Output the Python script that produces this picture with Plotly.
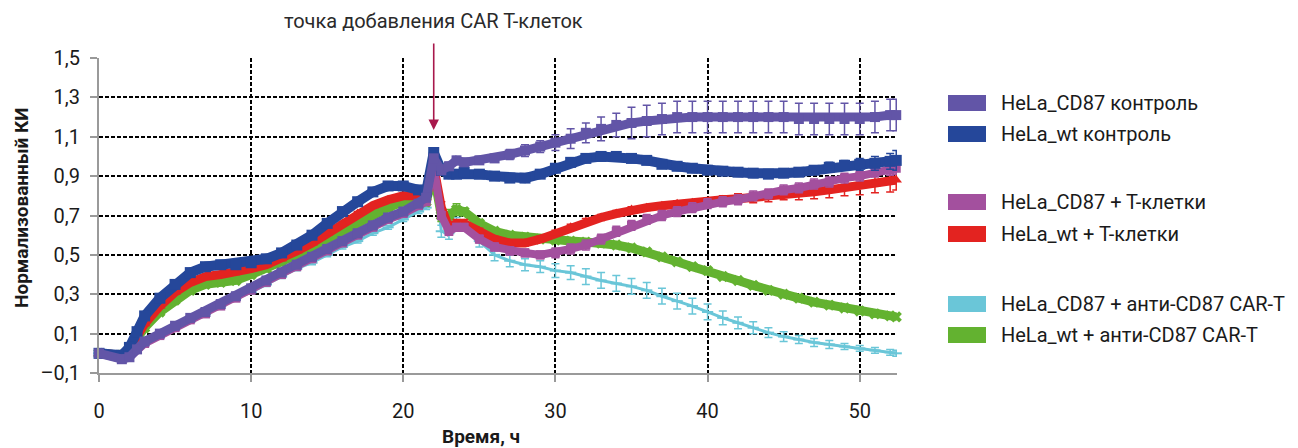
import plotly.graph_objects as go

# ---------------- data ----------------
time_h = [0, 1.5, 2, 2.5, 3,
          4, 5, 6, 7, 8, 9, 10, 11, 12, 13, 14, 15, 16, 17, 18, 19, 20, 21,
          21.5, 22, 22.5, 23, 23.5, 24,
          25, 26, 27, 28, 29, 30, 31, 32, 33, 34, 35, 36, 37, 38, 39, 40,
          41, 42, 43, 44, 45, 46, 47, 48, 49, 50, 51, 52,
          52.4]

series_names = ["HeLa_CD87 контроль", "HeLa_wt контроль",
                "HeLa_CD87 + T-клетки", "HeLa_wt + T-клетки",
                "HeLa_CD87 + анти-CD87 CAR-T", "HeLa_wt + анти-CD87 CAR-T"]

cd87_ctrl = [0.00, -0.03, -0.02, 0.02, 0.06,
             0.10, 0.14, 0.18, 0.21, 0.25, 0.29, 0.33, 0.37, 0.41, 0.45, 0.49, 0.53, 0.57, 0.61, 0.65, 0.69, 0.72, 0.76,
             0.79, 0.99, 0.93, 0.95, 0.98, 0.97,
             0.98, 0.99, 1.01, 1.03, 1.05, 1.07, 1.09, 1.12, 1.14, 1.16, 1.17, 1.18, 1.19, 1.20, 1.20, 1.20,
             1.20, 1.20, 1.20, 1.20, 1.20, 1.19, 1.19, 1.19, 1.19, 1.19, 1.20, 1.21,
             1.21]
cd87_ctrl_err = [0.01, 0.01, 0.01, 0.01, 0.01,
                 0.01, 0.01, 0.01, 0.01, 0.01, 0.01, 0.01, 0.01, 0.01, 0.01, 0.01, 0.01, 0.01, 0.01, 0.01, 0.01, 0.01, 0.01,
                 0.01, 0.02, 0.02, 0.02, 0.02, 0.02,
                 0.02, 0.02, 0.025, 0.03, 0.03, 0.04, 0.05, 0.05, 0.06, 0.06, 0.08, 0.08, 0.08, 0.08, 0.08, 0.08,
                 0.08, 0.08, 0.08, 0.08, 0.08, 0.08, 0.08, 0.08, 0.08, 0.08, 0.08, 0.08,
                 0.08]

wt_ctrl = [0.00, -0.01, 0.03, 0.11, 0.19,
           0.28, 0.35, 0.41, 0.44, 0.45, 0.45, 0.46, 0.48, 0.51, 0.55, 0.60, 0.66, 0.72, 0.77, 0.82, 0.85, 0.85, 0.83,
           0.82, 1.02, 0.93, 0.91, 0.91, 0.92,
           0.91, 0.90, 0.89, 0.89, 0.91, 0.94, 0.97, 0.99, 1.00, 1.00, 0.99, 0.98, 0.96, 0.95, 0.94, 0.93,
           0.925, 0.92, 0.915, 0.91, 0.915, 0.92, 0.93, 0.945, 0.955, 0.96, 0.965, 0.975,
           0.98]
wt_ctrl_err = [0.01, 0.01, 0.01, 0.01, 0.01,
               0.01, 0.01, 0.01, 0.01, 0.01, 0.01, 0.01, 0.01, 0.01, 0.01, 0.01, 0.01, 0.01, 0.01, 0.01, 0.01, 0.01, 0.01,
               0.01, 0.02, 0.01, 0.01, 0.01, 0.01,
               0.01, 0.01, 0.01, 0.01, 0.01, 0.01, 0.01, 0.01, 0.01, 0.01, 0.01, 0.01, 0.01, 0.01, 0.01, 0.01,
               0.01, 0.01, 0.01, 0.015, 0.015, 0.02, 0.02, 0.025, 0.025, 0.03, 0.035, 0.04,
               0.05]

cd87_t = [0.00, -0.03, -0.02, 0.02, 0.05,
          0.09, 0.13, 0.17, 0.20, 0.24, 0.28, 0.32, 0.36, 0.40, 0.44, 0.48, 0.52, 0.56, 0.60, 0.64, 0.68, 0.71, 0.75,
          0.77, 0.95, 0.70, 0.62, 0.64, 0.64,
          0.58, 0.54, 0.52, 0.51, 0.50, 0.51, 0.53, 0.55, 0.58, 0.62, 0.65, 0.68, 0.70, 0.72, 0.74, 0.76,
          0.77, 0.78, 0.80, 0.81, 0.83, 0.84, 0.86, 0.87, 0.89, 0.90, 0.92, 0.93,
          0.94]
cd87_t_err = [0.01, 0.01, 0.01, 0.01, 0.01,
              0.01, 0.01, 0.01, 0.01, 0.01, 0.01, 0.01, 0.01, 0.01, 0.01, 0.01, 0.01, 0.01, 0.01, 0.01, 0.01, 0.01, 0.01,
              0.01, 0.02, 0.02, 0.02, 0.02, 0.02,
              0.02, 0.02, 0.02, 0.02, 0.02, 0.025, 0.025, 0.025, 0.025, 0.025, 0.025, 0.025, 0.025, 0.025, 0.025, 0.025,
              0.025, 0.025, 0.025, 0.025, 0.025, 0.025, 0.025, 0.025, 0.025, 0.025, 0.025, 0.025,
              0.03]

wt_t = [0.00, -0.01, 0.02, 0.08, 0.15,
        0.24, 0.31, 0.36, 0.39, 0.40, 0.41, 0.43, 0.45, 0.48, 0.52, 0.56, 0.61, 0.66, 0.71, 0.75, 0.78, 0.80, 0.80,
        0.79, 0.95, 0.74, 0.64, 0.66, 0.66,
        0.62, 0.58, 0.56, 0.56, 0.58, 0.61, 0.64, 0.67, 0.69, 0.71, 0.73, 0.74, 0.75, 0.76, 0.765, 0.77,
        0.78, 0.785, 0.79, 0.80, 0.81, 0.815, 0.82, 0.83, 0.84, 0.85, 0.86, 0.87,
        0.88]
wt_t_err = [0.01, 0.01, 0.01, 0.01, 0.01,
            0.01, 0.01, 0.01, 0.01, 0.01, 0.01, 0.01, 0.01, 0.01, 0.01, 0.01, 0.01, 0.01, 0.01, 0.01, 0.01, 0.01, 0.01,
            0.01, 0.03, 0.03, 0.02, 0.02, 0.02,
            0.015, 0.015, 0.015, 0.015, 0.015, 0.015, 0.015, 0.015, 0.015, 0.015, 0.015, 0.015, 0.015, 0.015, 0.015, 0.02,
            0.02, 0.025, 0.025, 0.03, 0.03, 0.035, 0.035, 0.04, 0.04, 0.045, 0.045, 0.05,
            0.05]

cd87_car = [0.00, -0.02, -0.01, 0.03, 0.06,
            0.10, 0.14, 0.17, 0.20, 0.24, 0.28, 0.31, 0.35, 0.39, 0.43, 0.46, 0.50, 0.54, 0.57, 0.61, 0.64, 0.68, 0.72,
            0.74, 0.97, 0.62, 0.61, 0.67, 0.65,
            0.57, 0.50, 0.47, 0.45, 0.44, 0.42, 0.41, 0.39, 0.37, 0.355, 0.34, 0.32, 0.29, 0.265, 0.24, 0.21,
            0.18, 0.155, 0.13, 0.105, 0.085, 0.07, 0.055, 0.045, 0.035, 0.025, 0.015, 0.005,
            0.00]
cd87_car_err = [0.01, 0.01, 0.01, 0.01, 0.01,
                0.01, 0.01, 0.01, 0.01, 0.01, 0.01, 0.01, 0.01, 0.01, 0.01, 0.01, 0.01, 0.01, 0.01, 0.01, 0.01, 0.01, 0.01,
                0.01, 0.02, 0.03, 0.03, 0.02, 0.02,
                0.03, 0.03, 0.03, 0.03, 0.03, 0.035, 0.035, 0.04, 0.04, 0.04, 0.04, 0.04, 0.04, 0.04, 0.04, 0.04,
                0.035, 0.03, 0.03, 0.025, 0.025, 0.02, 0.02, 0.02, 0.015, 0.015, 0.015, 0.015,
                0.015]

wt_car = [0.00, -0.01, 0.02, 0.07, 0.13,
          0.21, 0.27, 0.32, 0.35, 0.36, 0.37, 0.40, 0.43, 0.46, 0.50, 0.54, 0.58, 0.62, 0.67, 0.71, 0.74, 0.77, 0.78,
          0.77, 0.91, 0.70, 0.70, 0.73, 0.72,
          0.66, 0.62, 0.60, 0.59, 0.58, 0.575, 0.57, 0.565, 0.56, 0.55, 0.535, 0.515, 0.49, 0.465, 0.44, 0.42,
          0.39, 0.37, 0.345, 0.32, 0.30, 0.28, 0.26, 0.245, 0.23, 0.215, 0.20, 0.19,
          0.185]
wt_car_err = [0.015, 0.015, 0.015, 0.015, 0.015,
              0.015, 0.015, 0.015, 0.015, 0.015, 0.015, 0.015, 0.015, 0.015, 0.015, 0.015, 0.015, 0.015, 0.015, 0.015, 0.015, 0.015, 0.015,
              0.01, 0.02, 0.03, 0.03, 0.03, 0.02,
              0.015, 0.015, 0.015, 0.015, 0.015, 0.015, 0.015, 0.015, 0.015, 0.015, 0.015, 0.015, 0.015, 0.015, 0.015, 0.015,
              0.015, 0.015, 0.015, 0.015, 0.015, 0.015, 0.015, 0.015, 0.015, 0.015, 0.015, 0.015,
              0.015]

y_tick_vals = [-0.1, 0.1, 0.3, 0.5, 0.7, 0.9, 1.1, 1.3, 1.5]
y_tick_text = ["–0,1", "0,1", "0,3", "0,5", "0,7", "0,9", "1,1", "1,3", "1,5"]
x_tick_vals = [0, 10, 20, 30, 40, 50]

annotation_text = "точка добавления CAR T-клеток"
x_title = "Время, ч"
y_title = "Нормализованный КИ"
arrow_time = 22

# ---------------- styling ----------------
colors = {
    "cd87_ctrl": "#6255A7",
    "wt_ctrl": "#25479A",
    "cd87_t": "#A3509E",
    "wt_t": "#E32320",
    "cd87_car": "#6AC6D8",
    "wt_car": "#63B230",
}

FONT = "Roboto, 'Open Sans', 'DejaVu Sans', sans-serif"
W, H = 1298, 448
L, R, T, B = 99, 897, 58, 373   # plot area in pixels

fig = go.Figure()

def add(vals, errs, key, name, width, symbol, msize, mline=0):
    fig.add_trace(go.Scatter(
        x=time_h, y=vals, name=name, mode="lines+markers",
        line=dict(color=colors[key], width=width),
        marker=dict(symbol=symbol, size=msize, color=colors[key],
                    line=dict(color=colors[key], width=mline)),
        error_y=dict(type="data", array=errs, visible=True,
                     color=colors[key], thickness=1.5, width=4),
        cliponaxis=False, showlegend=False,
    ))

# draw order (last on top)
add(cd87_car, cd87_car_err, "cd87_car", series_names[4], 3, "line-ew", 8, 2)
add(wt_car, wt_car_err, "wt_car", series_names[5], 9, "x", 10)
add(wt_t, wt_t_err, "wt_t", series_names[3], 9, "triangle-up", 10)
add(cd87_t, cd87_t_err, "cd87_t", series_names[2], 8, "square", 9)
add(wt_ctrl, wt_ctrl_err, "wt_ctrl", series_names[1], 10, "square", 11)
add(cd87_ctrl, cd87_ctrl_err, "cd87_ctrl", series_names[0], 9, "square", 10)

# pixel helpers for paper coordinates
def px(xp):
    return (xp - L) / (R - L)

def py(yp):
    return (B - yp) / (B - T)

annotations = []
shapes = []

# manual legend (colour keys + labels)
legend_rows = [
    ("cd87_ctrl", series_names[0], 103),
    ("wt_ctrl", series_names[1], 134),
    ("cd87_t", series_names[2], 202),
    ("wt_t", series_names[3], 234),
    ("cd87_car", series_names[4], 304),
    ("wt_car", series_names[5], 335),
]
for key, name, yc in legend_rows:
    shapes.append(dict(type="rect", xref="paper", yref="paper",
                       x0=px(948), x1=px(986), y0=py(yc + 8), y1=py(yc - 8),
                       fillcolor=colors[key], line=dict(width=0)))
    annotations.append(dict(xref="paper", yref="paper", x=px(999), y=py(yc),
                            xanchor="left", yanchor="middle", showarrow=False,
                            text=name, font=dict(family=FONT, size=20, color="#1a1a1a")))

# arrow marking CAR T-cell addition
annotations.append(dict(x=arrow_time, y=1.5 - (130 - T) * 1.6 / (B - T), xref="x", yref="y",
                        ax=0, ay=-88, axref="pixel", ayref="pixel", text="",
                        showarrow=True, arrowhead=2, arrowsize=1.3, arrowwidth=1.6,
                        arrowcolor="#A8184C"))
annotations.append(dict(xref="paper", yref="paper", x=px(433), y=py(21),
                        xanchor="center", yanchor="middle", showarrow=False,
                        text=annotation_text, font=dict(family=FONT, size=20, color="#2a2a2a")))

# axis titles
annotations.append(dict(xref="paper", yref="paper", x=px(481), y=py(436),
                        xanchor="center", yanchor="middle", showarrow=False,
                        text="<b>" + x_title + "</b>",
                        font=dict(family=FONT, size=19, color="#1a1a1a")))
annotations.append(dict(xref="paper", yref="paper", x=px(21), y=py(208),
                        xanchor="center", yanchor="middle", showarrow=False, textangle=-90,
                        text="<b>" + y_title + "</b>",
                        font=dict(family=FONT, size=19, color="#1a1a1a")))

fig.update_layout(
    width=W, height=H,
    margin=dict(l=L, r=W - R, t=T, b=H - B, pad=0),
    plot_bgcolor="white", paper_bgcolor="white",
    font=dict(family=FONT, size=19, color="#1a1a1a"),
    showlegend=False,
    annotations=annotations, shapes=shapes,
    xaxis=dict(range=[0, 52.45], tickvals=x_tick_vals, ticks="outside", ticklen=7,
               tickcolor="#999999", tickwidth=1.5,
               showline=True, linecolor="#9a9a9a", linewidth=2,
               showgrid=True, gridcolor="#000000", gridwidth=1.8, griddash="4px,2px",
               zeroline=False, ticklabelstandoff=12,
               tickfont=dict(family=FONT, size=20, color="#1a1a1a")),
    yaxis=dict(range=[-0.1, 1.5], tickvals=y_tick_vals, ticktext=y_tick_text,
               ticks="outside", ticklen=7, tickcolor="#999999", tickwidth=1.5,
               showline=True, linecolor="#9a9a9a", linewidth=2,
               showgrid=True, gridcolor="#000000", gridwidth=1.8, griddash="4px,2px",
               zeroline=False, ticklabelstandoff=6,
               tickfont=dict(family=FONT, size=20, color="#1a1a1a")),
)

fig.write_html("out.html",
               config={"displayModeBar": False},
               post_script="document.body.style.margin='0px';document.body.style.overflow='hidden';")
